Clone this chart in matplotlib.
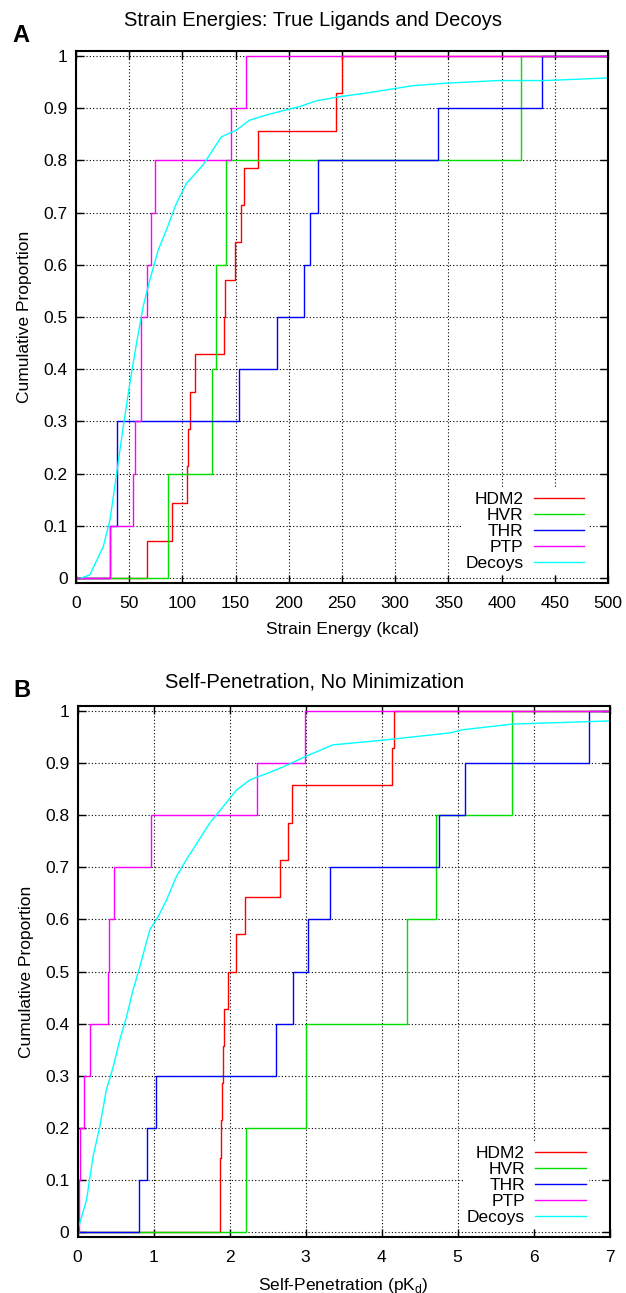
import matplotlib
matplotlib.use('Agg')
import matplotlib.pyplot as plt
import numpy as np

plt.rcParams['font.family'] = ['Liberation Sans', 'DejaVu Sans']

# Panel A: strain energies (kcal) of true ligands
hdm2_a = [66.8, 90.6, 104.5, 104.8, 107.5, 112.2, 139.5, 140.3, 149.7, 155.3, 157.5, 170.9, 244.4, 250.0]
hvr_a = [86.0, 128.1, 131.9, 140.6, 417.8]
thr_a = [31.6, 38.1, 38.3, 152.8, 188.7, 214.7, 220.3, 227.8, 340.3, 438.0]
ptp_a = [32.2, 53.7, 55.5, 61.0, 61.3, 66.3, 70.3, 74.0, 146.0, 160.0]
decoy_a_x = [5, 13, 25.6, 31.9, 38.2, 44.4, 50.6, 56.9, 63.1, 69.4, 77.2, 85, 94.4, 103.8,
             119.3, 136.6, 150.7, 163, 178.8, 194, 210, 225.6, 247.5, 272.5, 303.8, 316,
             347.5, 397.5, 441, 500]
decoy_a_y = [0.0, 0.006, 0.06, 0.111, 0.2, 0.29, 0.373, 0.45, 0.52, 0.571, 0.628, 0.667, 0.718, 0.756,
             0.791, 0.845, 0.858, 0.877, 0.887, 0.895, 0.903, 0.914, 0.922, 0.929, 0.939, 0.943,
             0.948, 0.953, 0.953, 0.958]

# Panel B: self-penetration (pKd)
hdm2_b = [1.87, 1.88, 1.89, 1.90, 1.92, 1.93, 1.98, 2.08, 2.21, 2.66, 2.77, 2.82, 4.14, 4.17]
hvr_b = [2.215, 3.0, 4.33, 4.72, 5.72]
thr_b = [0.807, 0.916, 1.03, 2.61, 2.83, 3.03, 3.32, 4.75, 5.10, 6.73]
ptp_b = [0.02, 0.03, 0.08, 0.16, 0.40, 0.42, 0.48, 0.965, 2.36, 2.99]
decoy_b_x = [0.0, 0.03, 0.118, 0.205, 0.293, 0.38, 0.47, 0.557, 0.645, 0.73, 0.82, 0.951, 1.06,
             1.17, 1.30, 1.43, 1.57, 1.74, 1.92, 2.09, 2.27, 2.49, 2.71, 2.99, 3.36, 4.02,
             4.46, 4.90, 5.07, 5.73, 6.39, 7.0]
decoy_b_y = [0.0, 0.017, 0.061, 0.145, 0.202, 0.273, 0.317, 0.369, 0.413, 0.464, 0.509, 0.58, 0.605,
             0.637, 0.682, 0.714, 0.746, 0.785, 0.817, 0.848, 0.868, 0.88, 0.893, 0.912, 0.935, 0.944,
             0.951, 0.958, 0.964, 0.975, 0.978, 0.981]

labels = ['HDM2', 'HVR', 'THR', 'PTP', 'Decoys']
colors = ['#ff0000', '#00e000', '#0000ff', '#ff00ff', '#00ffff']
yticks = [0, 0.1, 0.2, 0.3, 0.4, 0.5, 0.6, 0.7, 0.8, 0.9, 1]
ytick_labels = ['0', '0.1', '0.2', '0.3', '0.4', '0.5', '0.6', '0.7', '0.8', '0.9', '1']

W, H = 626, 1293
fig = plt.figure(figsize=(W / 100, H / 100), dpi=100)
axA = fig.add_axes([76 / W, (H - 583) / H, 532 / W, 532 / H])
axB = fig.add_axes([77.5 / W, (H - 1237) / H, 532 / W, 531 / H])


def cdf_step(ax, vals, xmax, color, label):
    v = np.sort(np.asarray(vals, dtype=float))
    n = len(v)
    xs = np.concatenate([[0], v, [xmax]])
    ys = np.concatenate([[0], np.arange(1, n + 1) / n, [1]])
    ax.step(xs, ys, where='post', color=color, lw=1.0, label=label)


def style(ax, xmax, xticks, title, title_pad, xlabel, letter):
    ax.set_xlim(0, xmax)
    ax.set_ylim(-0.0096, 1.0096)
    ax.set_xticks(xticks)
    ax.set_yticks(yticks)
    ax.set_yticklabels(ytick_labels)
    ax.grid(True, color='black', linestyle=(0, (1, 2)), lw=0.8)
    ax.tick_params(direction='in', length=6, width=1, top=True, right=True, labelsize=12.5)
    ax.tick_params(axis='x', pad=9)
    ax.tick_params(axis='y', pad=6)
    for s in ax.spines.values():
        s.set_linewidth(1.5)
    # titles sit over the centre of the whole figure
    ax.set_title(title, fontsize=14.5, pad=title_pad, x=0.446)
    ax.set_xlabel(xlabel, fontsize=12.5, labelpad=8)
    ax.set_ylabel('Cumulative Proportion', fontsize=12.5, labelpad=8)
    ax.text(-0.12, 1.03, letter, transform=ax.transAxes, fontsize=17,
            fontweight='bold', ha='left', va='center')
    leg = ax.legend(loc='lower right', bbox_to_anchor=(0.978, 0.0), markerfirst=False,
                    fontsize=12.5, handlelength=2.9, handletextpad=0.6,
                    labelspacing=0.05, borderpad=0.2, frameon=True, fancybox=False)
    leg.get_frame().set_edgecolor('none')
    leg.get_frame().set_facecolor('white')
    leg.get_frame().set_alpha(1)


for vals, c, lab in zip([hdm2_a, hvr_a, thr_a, ptp_a], colors, labels):
    cdf_step(axA, vals, 500, c, lab)
axA.plot(decoy_a_x, decoy_a_y, color=colors[4], lw=1.0, label=labels[4])
style(axA, 500, range(0, 501, 50), 'Strain Energies: True Ligands and Decoys', 18,
      'Strain Energy (kcal)', 'A')

for vals, c, lab in zip([hdm2_b, hvr_b, thr_b, ptp_b], colors, labels):
    cdf_step(axB, vals, 7, c, lab)
axB.plot(decoy_b_x, decoy_b_y, color=colors[4], lw=1.0, label=labels[4])
style(axB, 7, range(0, 8), 'Self-Penetration, No Minimization', 13,
      'Self-Penetration (pK$_\\mathregular{d}$)', 'B')

fig.savefig('out.png', dpi=100)
